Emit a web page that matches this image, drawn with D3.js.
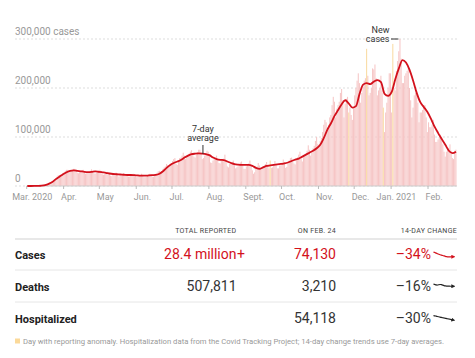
<!DOCTYPE html>
<html>
<head>
<meta charset="utf-8">
<title>Coronavirus in the U.S.</title>
<script src="https://d3js.org/d3.v7.min.js"></script>
<style>
  body { margin: 0; background-color: white; }
  svg { display: block; font-family: Roboto, "Noto Sans", sans-serif; }
  .grid-line { stroke: #ddd; stroke-dasharray: 2,2; }
  .y-label { fill: #999; font-size: 10px; }
  .x-label { fill: #999; font-size: 9px; }
  .note-text { fill: #333; font-size: 9px; }
  .head-text { fill: #444; font-size: 7px; letter-spacing: 0.3px; }
  .row-name { fill: #222; font-size: 11px; font-weight: bold; }
  .value-text { fill: #333; font-size: 14px; }
  .foot-text { fill: #999; font-size: 7.7px; }
</style>
</head>
<body>
<svg id="chart"></svg>
<script>
var width = 475;
var height = 358;

// new cases reported each day (thousands), Mar 1 2020 to Feb 24 2021
var dailyCases = [
  0,0,0,0,0.1,0.1,0.1,
  0.1,0.2,0.3,0.4,0.5,0.6,0.8,
  1,1.5,2.5,3.5,5,6.5,7.5,
  9,11,13,16,19,22,22,
  20,22,26,28,31,33,33,
  27,29,32,33,35,35,33,
  27,26,28,30,32,33,30,
  25,26,27,29,31,34,30,
  26,25,27,28,32,33,29,
  24,23,24,26,29,28,26,
  21,20,23,24,27,27,24,
  19,21,22,23,26,25,24,
  20,19,19,21,24,25,24,
  20,18,20,21,22,25,23,
  18,18,19,21,23,25,24,
  19,19,23,25,27,30,31,
  27,30,35,38,40,45,43,
  40,42,46,51,55,57,45,
  43,50,57,58,62,68,62,
  55,58,62,66,70,73,64,
  60,58,64,69,74,74,66,
  55,57,62,67,72,70,62,
  48,47,52,56,58,62,55,
  47,46,54,55,56,64,52,
  40,38,45,48,47,52,44,
  36,38,40,45,48,50,43,
  35,35,40,43,46,52,43,
  32,25,28,35,40,47,42,
  35,34,39,40,45,49,44,
  36,52,37,38,43,51,44,
  36,36,42,42,48,54,49,
  37,39,45,52,57,58,50,
  46,44,53,59,64,70,57,
  50,59,61,63,72,83,74,
  62,68,77,82,92,100,86,
  80,92,98,110,125,135,130,
  112,125,140,145,165,182,172,
  140,158,165,172,190,198,175,
  140,168,178,182,150,160,145,
  135,160,185,200,215,230,210,
  170,190,205,215,220,280,225,
  185,190,200,240,238,248,220,
  185,195,200,225,195,160,110,
  150,170,200,230,230,150,290,
  200,195,235,255,275,300,260,
  210,210,225,230,235,245,200,
  175,140,160,185,190,195,170,
  130,150,150,155,165,165,140,
  110,130,120,120,125,135,105,
  90,90,95,100,105,100,85,
  70,60,70,75,78,85,72,
  57,55,72,74.13
];

// 7-day average (thousands), one reading every 3 days from Mar 1 2020
var avgCases = [
  0,0,0.1,0.3,0.8,2,4.5,8,14,19,
  24,28,31,32,31,30,29,28.5,29,30,
  29,28,27,25.5,24.5,24,23.5,23,22.5,22.5,
  22,21.5,21,21,21.5,22,22.5,25,30,37,
  43,47,50,53,58,62,65,66,66.5,66,
  65,63,58,55,53.5,53,50,47,44.5,43.5,
  43,43,43,41,37,35,38,41,42,43,
  44,45,46,48,51,54,56,60,64,68,
  72,77,84,98,115,128,143,155,167,175,
  168,160,163,188,207,210,208,213,216,212,
  188,184,192,218,240,257,252,237,215,190,
  171,161,151,137,121,108,96,84,72,67,
  70
];
var avgStep = 3;

var anomalyDays = ["2020-09-21", "2020-11-26", "2020-12-11", "2020-12-25", "2021-01-02"];

var yTicks = [0, 100, 200, 300];
var yTickLabels = ["0", "100,000", "200,000", "300,000 cases"];
var monthLabels = ["Mar. 2020", "Apr.", "May", "Jun.", "Jul.", "Aug.", "Sept.", "Oct.", "Nov.", "Dec.", "Jan. 2021", "Feb."];

// table
var columns = ["TOTAL REPORTED", "ON FEB. 24", "14-DAY CHANGE"];
var rowNames = ["Cases", "Deaths", "Hospitalized"];
var totals = ["28.4 million+", "507,811", ""];
var onDay = ["74,130", "3,210", "54,118"];
var changes = ["\u201334%", "\u201316%", "\u201330%"];
// 7-day averages over the last 14 days, relative to the first day
var trendCases = [1, 0.96, 0.92, 0.88, 0.84, 0.8, 0.77, 0.75, 0.72, 0.69, 0.67, 0.65, 0.65, 0.66, 0.66];
var trendDeaths = [1, 0.97, 0.93, 0.92, 0.95, 0.97, 0.96, 0.92, 0.88, 0.86, 0.85, 0.85, 0.84, 0.84, 0.84];
var trendHosp = [1, 0.98, 0.95, 0.93, 0.91, 0.88, 0.86, 0.84, 0.82, 0.8, 0.78, 0.76, 0.74, 0.72, 0.7];
var trends = [trendCases, trendDeaths, trendHosp];

var footnote = "Day with reporting anomaly. Hospitalization data from the Covid Tracking Project; 14-day change trends use 7-day averages.";

var red = "#d3111c";

var svg = d3.select("#chart").attr("width", width).attr("height", height);

var parse = d3.timeParse("%Y-%m-%d");
var start = parse("2020-03-01");
var days = dailyCases.map(function(v, i) {
  return { date: d3.timeDay.offset(start, i), value: v };
});
var anomalyKeys = anomalyDays.map(function(s) { return +parse(s); });

var x = d3.scaleTime()
  .domain([start, d3.timeDay.offset(start, dailyCases.length)])
  .range([26.7, 456.6]);
var y = d3.scaleLinear().domain([0, 300]).range([186, 39]);

// grid lines and y labels
var grid = svg.append("g");
grid.selectAll("line")
  .data(yTicks)
  .enter().append("line")
  .attr("class", "grid-line")
  .attr("x1", 15).attr("x2", 457)
  .attr("y1", function(d) { return y(d); })
  .attr("y2", function(d) { return y(d); });
grid.selectAll("text")
  .data(yTicks)
  .enter().append("text")
  .attr("class", "y-label")
  .attr("x", 15)
  .attr("y", function(d) { return y(d) - 4; })
  .text(function(d, i) { return yTickLabels[i]; });

// daily bars, anomalies drawn last so they sit on top
var barW = function(d) { return x(d3.timeDay.offset(d.date, 1)) - x(d.date) - 0.15; };
var isAnomaly = function(d) { return anomalyKeys.indexOf(+d.date) >= 0; };
svg.append("g")
  .selectAll("rect")
  .data(days.filter(function(d) { return !isAnomaly(d); }).concat(days.filter(isAnomaly)))
  .enter().append("rect")
  .attr("x", function(d) { return x(d.date); })
  .attr("y", function(d) { return y(d.value); })
  .attr("width", barW)
  .attr("height", function(d) { return y(0) - y(d.value); })
  .attr("fill", function(d) { return isAnomaly(d) ? "#f9dba2" : "#f6c6c6"; });

// baseline and month ticks
svg.append("line")
  .attr("x1", x(start)).attr("x2", x.range()[1])
  .attr("y1", y(0)).attr("y2", y(0))
  .attr("stroke", "#ccc");

var months = d3.timeMonth.range(start, x.domain()[1]);
var xAxis = svg.append("g");
xAxis.selectAll("line")
  .data(months)
  .enter().append("line")
  .attr("x1", function(d) { return x(d); })
  .attr("x2", function(d) { return x(d); })
  .attr("y1", y(0)).attr("y2", y(0) + 3)
  .attr("stroke", "#bbb");
xAxis.selectAll("text")
  .data(months)
  .enter().append("text")
  .attr("class", "x-label")
  .attr("x", function(d, i) { return x(d) + (monthLabels[i].length > 5 ? -14.5 : -2.5); })
  .attr("y", 200)
  .text(function(d, i) { return monthLabels[i]; });

// 7-day average line
var line = d3.line()
  .x(function(d, i) { return x(d3.timeDay.offset(start, i * avgStep)) + 0.6; })
  .y(function(d) { return y(d); })
  .curve(d3.curveMonotoneX);
svg.append("path")
  .datum(avgCases)
  .attr("d", line)
  .attr("fill", "none")
  .attr("stroke", red)
  .attr("stroke-width", 1.8)
  .attr("stroke-linejoin", "round");

// annotations
var avgX = x(parse("2020-07-27"));
svg.append("text").attr("class", "note-text").attr("text-anchor", "middle")
  .attr("x", avgX).attr("y", 132).text("7-day");
svg.append("text").attr("class", "note-text").attr("text-anchor", "middle")
  .attr("x", avgX).attr("y", 141).text("average");
svg.append("line")
  .attr("x1", avgX).attr("x2", avgX).attr("y1", 145).attr("y2", 154)
  .attr("stroke", "#333");

var peakX = x(parse("2021-01-08"));
svg.append("text").attr("class", "note-text").attr("text-anchor", "end")
  .attr("x", 389.5).attr("y", 33).text("New");
svg.append("text").attr("class", "note-text").attr("text-anchor", "end")
  .attr("x", 389.5).attr("y", 41.5).text("cases");
svg.append("line")
  .attr("x1", 391).attr("x2", peakX - 1).attr("y1", y(300)).attr("y2", y(300))
  .attr("stroke", "#333");

// table
var colRight = [236.5, 336, 457];
svg.selectAll(".head-text")
  .data(columns)
  .enter().append("text")
  .attr("class", "head-text")
  .attr("text-anchor", "end")
  .attr("x", function(d, i) { return colRight[i]; })
  .attr("y", 233)
  .text(function(d) { return d; });

svg.append("line")
  .attr("x1", 15).attr("x2", 457).attr("y1", 239).attr("y2", 239)
  .attr("stroke", "#e8e8e8").attr("stroke-width", 2);
[270, 302].forEach(function(yy) {
  svg.append("line")
    .attr("x1", 15).attr("x2", 457).attr("y1", yy).attr("y2", yy)
    .attr("stroke", "#e6e6e6");
});

var defs = svg.append("defs");
["red", "dark"].forEach(function(name) {
  defs.append("marker")
    .attr("id", "arrow-" + name)
    .attr("viewBox", "0 0 6 6")
    .attr("refX", 1).attr("refY", 3)
    .attr("markerWidth", 4).attr("markerHeight", 4)
    .attr("markerUnits", "userSpaceOnUse")
    .attr("orient", "auto")
    .append("path")
    .attr("d", "M0,0L6,3L0,6Z")
    .attr("fill", name == "red" ? red : "#222");
});

var rowBase = [259, 291, 322.5];
var sx = d3.scaleLinear().domain([0, 14]).range([433.5, 452]);

rowNames.forEach(function(name, i) {
  var color = i == 0 ? red : "#333";
  var by = rowBase[i];
  svg.append("text").attr("class", "row-name").attr("x", 15).attr("y", by).text(name);

  if (totals[i]) {
    svg.append("text").attr("class", "value-text")
      .attr("x", colRight[0]).attr("y", by).attr("text-anchor", "end")
      .style("fill", color)
      .text(totals[i].replace("+", ""));
    if (totals[i].indexOf("+") >= 0) {
      svg.append("text").attr("class", "value-text")
        .attr("x", colRight[0] + 0.5).attr("y", by)
        .style("fill", color).text("+");
    }
  }
  svg.append("text").attr("class", "value-text")
    .attr("x", colRight[1]).attr("y", by).attr("text-anchor", "end")
    .style("fill", color).text(onDay[i]);
  svg.append("text").attr("class", "value-text")
    .attr("x", 431).attr("y", by).attr("text-anchor", "end")
    .style("fill", color).text(changes[i]);

  // sparkline of the 14-day trend
  var sy = d3.scaleLinear().domain([1, 0]).range([by - 7, by + 7]);
  svg.append("path")
    .datum(trends[i])
    .attr("d", d3.line()
      .x(function(d, j) { return sx(j); })
      .y(function(d) { return sy(d); })
      .curve(d3.curveBasis))
    .attr("fill", "none")
    .attr("stroke", i == 0 ? red : "#222")
    .attr("stroke-width", 1.2)
    .attr("marker-end", "url(#arrow-" + (i == 0 ? "red" : "dark") + ")");
});

// footnote
svg.append("rect")
  .attr("x", 15).attr("y", 338.5).attr("width", 5).attr("height", 5)
  .attr("fill", "#fbd999");
svg.append("text").attr("class", "foot-text")
  .attr("x", 23).attr("y", 343.5)
  .text(footnote);
</script>
</body>
</html>
